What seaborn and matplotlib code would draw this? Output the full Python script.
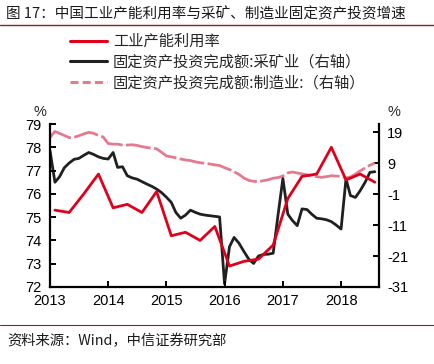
import numpy as np
import pandas as pd
import matplotlib
matplotlib.use("Agg")
import matplotlib.pyplot as plt
import matplotlib.lines as mlines
import seaborn as sns

# ---------------- data ----------------
# quarterly industrial capacity utilisation (%), left axis
util_dates = pd.date_range("2013-02-01", periods=23, freq="3MS")
util_values = [75.3, 75.2, 76.0, 76.85,
               75.4, 75.55, 75.2, 76.1,
               74.2, 74.35, 74.0, 74.6,
               72.9, 73.1, 73.2, 73.8,
               75.8, 76.75, 76.85, 78.0,
               76.6, 76.85, 76.5]

# monthly fixed-asset investment YoY (%), right axis
fai_dates = pd.date_range("2013-01-01", "2018-08-01", freq="MS")
mining_values = [13.0, 2.8, 4.5, 7.5, 9.0, 10.2, 10.5, 11.5, 12.4, 11.8, 11.0, 10.5,
                 10.3, 12.4, 7.6, 7.8, 4.9, 4.2, 3.8, 3.0, 2.2, 1.5, 0.6, -0.5,
                 -2.0, -3.7, -6.9, -8.8, -7.8, -6.2, -6.9, -7.5, -7.8, -8.0, -8.2, -8.4,
                 -30.0, -18.0, -15.0, -16.9, -19.5, -22.0, -23.4, -21.0, -20.5, -20.4, -20.1, -8.0,
                 4.0, -7.5, -9.5, -11.2, -5.8, -6.0, -7.5, -8.8, -9.0, -9.3, -9.9, -11.0,
                 -12.3, 3.9, -1.5, -2.1, 0.1, 2.8, 6.0, 6.2]
manuf_values = [17.3, 19.2, 18.6, 17.9, 17.2, 17.3, 17.8, 18.4, 18.9, 18.6, 17.9, 17.4,
                15.3, 15.1, 15.1, 14.8, 14.8, 14.9, 14.7, 14.3, 14.0, 13.8, 13.6, 12.5,
                11.3, 11.0, 10.7, 10.3, 10.0, 9.8, 9.4, 9.1, 8.9, 8.7, 8.4, 8.2,
                7.5, 6.9, 6.2, 5.3, 4.2, 3.4, 3.1, 3.0, 3.3, 3.6, 4.1, 4.3,
                4.8, 5.8, 6.1, 5.8, 5.5, 5.2, 4.9, 4.6, 4.4, 4.6, 4.9, 4.8,
                4.7, 4.2, 4.5, 5.4, 6.5, 7.4, 8.3, 9.0]

years = [2013, 2014, 2015, 2016, 2017, 2018]
left_ticks = [72, 73, 74, 75, 76, 77, 78, 79]
right_ticks = [-31, -21, -11, -1, 9, 19]

title = "图 17：中国工业产能利用率与采矿、制造业固定资产投资增速"
source = "资料来源：Wind，中信证券研究部"
labels = ["工业产能利用率", "固定资产投资完成额:采矿业（右轴）", "固定资产投资完成额:制造业:（右轴）"]

RED = "#E0001B"
BLACK = "#202020"
PINK = "#E57A8E"
RULE = "#8B2323"

util_df = pd.DataFrame({"date": util_dates, "value": util_values})
fai_df = pd.DataFrame({"date": fai_dates, "mining": mining_values, "manuf": manuf_values})

# ---------------- figure ----------------
sns.set_theme(style="white")
plt.rcParams["font.family"] = ["Liberation Sans", "Noto Sans CJK SC", "DejaVu Sans"]
plt.rcParams["axes.unicode_minus"] = False
cjk = ["Noto Sans CJK SC", "DejaVu Sans"]

fig = plt.figure(figsize=(4.35, 3.64), dpi=100)
ax = fig.add_axes([50 / 435, 1 - 287 / 364, (379 - 50) / 435, (287 - 124) / 364])
ax2 = ax.twinx()

sns.lineplot(data=fai_df, x="date", y="manuf", ax=ax2, color=PINK, linewidth=2.0)
ax2.lines[-1].set_linestyle((0, (9, 1.2)))
sns.lineplot(data=fai_df, x="date", y="mining", ax=ax2, color=BLACK, linewidth=2.0)
sns.lineplot(data=util_df, x="date", y="value", ax=ax, color=RED, linewidth=2.0)

ax.set_zorder(ax2.get_zorder() + 1)
ax.patch.set_visible(False)

ax.set_ylim(72, 79)
ax.set_yticks(left_ticks)
ax.set_yticklabels([str(v) for v in left_ticks])
ax2.set_ylim(-31, 21.6)
ax2.set_yticks(right_ticks)
ax2.set_yticklabels([str(v) for v in right_ticks])

ax.set_xlim(pd.Timestamp("2013-01-01"), pd.Timestamp("2018-08-27"))
ax.set_xticks([pd.Timestamp(f"{y}-01-01") for y in years])
ax.set_xticklabels([str(y) for y in years])

for a in (ax, ax2):
    a.set_xlabel("")
    a.set_ylabel("")
    a.grid(False)
    for s in a.spines.values():
        s.set_visible(False)
ax.spines["left"].set_visible(True)
ax.spines["bottom"].set_visible(True)
ax2.spines["right"].set_visible(True)
for s in (ax.spines["left"], ax.spines["bottom"], ax2.spines["right"]):
    s.set_color("black")
    s.set_linewidth(1.6)

ax.tick_params(axis="y", direction="in", length=4, width=1.4, colors="black",
               labelsize=10.5, pad=6, left=True)
ax.tick_params(axis="x", direction="in", length=4, width=1.4, colors="black",
               labelsize=10.5, pad=5, bottom=True)
ax2.tick_params(axis="y", direction="in", length=4, width=1.4, colors="black",
                labelsize=10.5, pad=6, right=True)

fig.text(40 / 435, 1 - 112 / 364, "%", ha="center", va="center", fontsize=10.5)
fig.text(394 / 435, 1 - 112 / 364, "%", ha="center", va="center", fontsize=10.5)

# legend
h1 = mlines.Line2D([], [], color=RED, linewidth=2.2)
h2 = mlines.Line2D([], [], color=BLACK, linewidth=2.2)
h3 = mlines.Line2D([], [], color=PINK, linewidth=2.2, linestyle=(0, (2.6, 1.4)))
fig.legend([h1, h2, h3], labels, loc="upper left", bbox_to_anchor=(70 / 435, 1 - 33 / 364),
           frameon=False, prop={"family": cjk, "size": 11}, handlelength=2.45,
           handletextpad=0.35, labelspacing=0.25, borderaxespad=0, borderpad=0)

# title, rules, source
fig.text(6 / 435, 1 - 14 / 364, title, ha="left", va="center", fontsize=10.5,
         family=cjk, color="#1a1a1a")
fig.add_artist(mlines.Line2D([0, 1], [1 - 24.5 / 364, 1 - 24.5 / 364], color=RULE,
                             linewidth=1.0, transform=fig.transFigure))
fig.add_artist(mlines.Line2D([0, 1], [1 - 325 / 364, 1 - 325 / 364], color=RULE,
                             linewidth=0.8, transform=fig.transFigure))
fig.text(7 / 435, 1 - 341 / 364, source, ha="left", va="center", fontsize=10.3,
         family=cjk, color="#1a1a1a")

fig.savefig("out.png", dpi=100)
